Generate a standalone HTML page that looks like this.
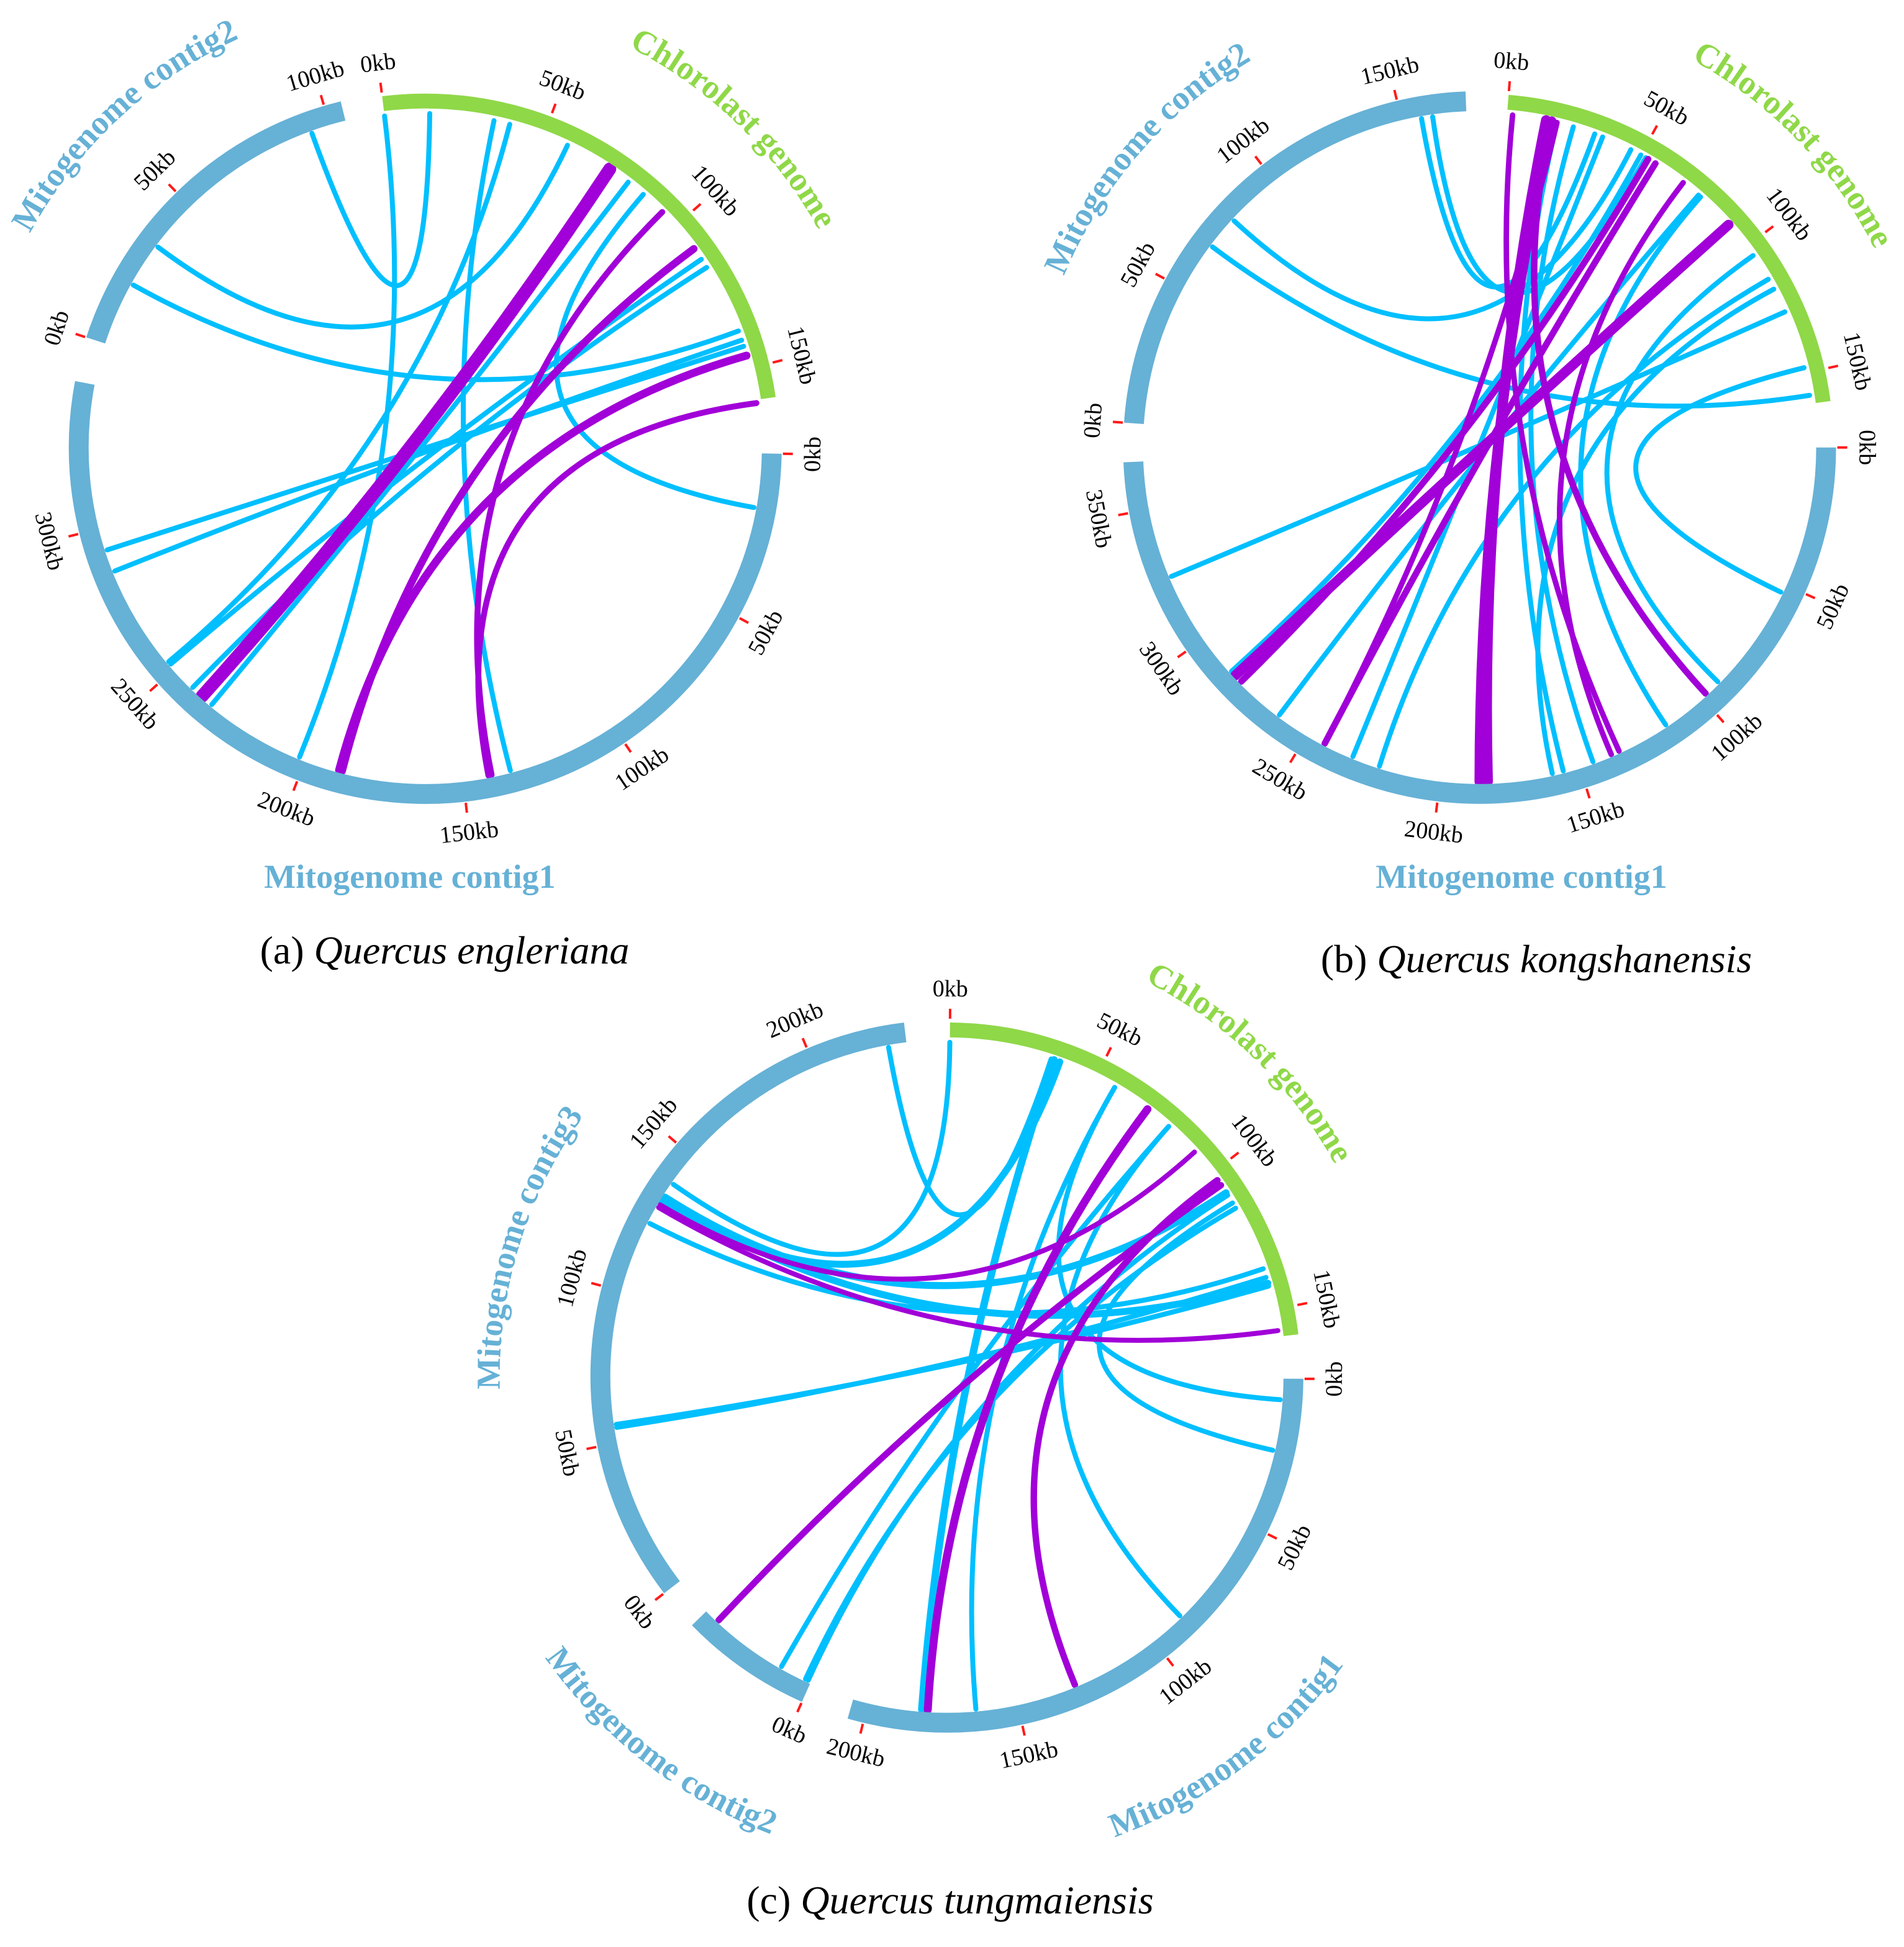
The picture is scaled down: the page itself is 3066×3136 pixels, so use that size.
<!DOCTYPE html>
<html><head><meta charset="utf-8"><style>
html,body{margin:0;padding:0;background:#fff;}
svg{display:block;}
text{font-family:"Liberation Serif",serif;}
</style></head>
<body>
<svg id="fig" xmlns="http://www.w3.org/2000/svg" width="3066" height="3136" viewBox="0 0 1533 1568"></svg>
<script>
// ---------- data ----------
// segment lengths (kb)
const segLenA = {chl:160, c1:345, c2:105};
const segLenB = {chl:161, c1:367, c2:173};
const segLenC = {chl:159, c1:205, c2:42, c3:231};
// tick labels (kb)
const ticksA = {chl:[0,50,100,150], c1:[0,50,100,150,200,250,300], c2:[0,50,100]};
const ticksB = {chl:[0,50,100,150], c1:[0,50,100,150,200,250,300,350], c2:[0,50,100,150]};
const ticksC = {chl:[0,50,100,150], c1:[0,50,100,150,200], c2:[0], c3:[0,50,100,150,200]};
// links: [segA, kbA, segB, kbB, type(b=blue,p=purple), weight]
const linksA = [
 ['c2',94,'chl',14,'b',1],['chl',0,'c1',202,'b',1],['chl',34,'c1',135,'b',1],
 ['chl',39,'c1',253,'b',1],['chl',58,'c2',34,'b',1],['c2',20,'chl',138,'b',1],
 ['chl',80,'c1',234,'b',1],['chl',86,'c1',17,'b',1],
 ['chl',113,'c1',252,'b',1],['chl',116,'c1',242,'b',1],
 ['chl',141,'c1',286,'b',1],['chl',143,'c1',293,'b',1],
 ['chl',73,'c1',238,'p',2.6],['chl',94,'c1',141,'p',1.2],['chl',109,'c1',188,'p',1.5],
 ['chl',146,'c1',189,'p',1.6],['chl',161,'c1',142,'p',1.2]
];
const linksB = [
 ['c2',157,'chl',32,'b',1],['c2',161,'chl',52,'b',1],['c2',80,'chl',46,'b',1],
 ['c2',68,'chl',158,'b',1],['c1',325,'chl',127,'b',1],['c1',53,'chl',148,'b',1],
 ['c1',92,'chl',104,'b',1],['c1',116,'chl',76,'b',1],['c1',156,'chl',18,'b',1],
 ['c1',145,'chl',24,'b',1],['c1',160,'chl',118,'b',1],['c1',285,'chl',50,'b',1],
 ['c1',262,'chl',75,'b',1],['c1',232,'chl',35,'b',1],['c1',222,'chl',114,'b',1],
 ['chl',2,'c1',135,'p',1.1],['chl',14,'c1',183,'p',2],['chl',16,'c1',186,'p',2],
 ['chl',16,'c1',98,'p',1.3],['chl',18,'c1',243,'p',1.1],['chl',53,'c1',280,'p',1.3],
 ['chl',56,'c1',243,'p',1.3],['chl',68,'c1',138,'p',1.1],['chl',90,'c1',283,'p',2]
];
const linksC = [
 ['c3',225,'chl',34,'b',1],['chl',0,'c3',139,'b',1],['chl',37,'c3',132,'b',1.4],
 ['c3',133,'chl',141,'b',1.4],['c3',134,'chl',108,'b',1.4],['c3',124,'chl',136,'b',1],
 ['chl',57,'c1',7,'b',1],['chl',112,'c1',24,'b',1],['c3',55,'chl',139,'b',1],
 ['c3',56,'chl',142,'b',1],['c1',88,'chl',79,'b',1],['c1',182,'chl',35,'b',1.5],
 ['c1',164,'chl',57,'b',1],['c2',11,'chl',79,'b',1],['c2',1,'chl',109,'b',1],
 ['c2',2,'chl',114,'b',1],
 ['c3',130,'chl',157,'p',1],['c3',131,'chl',91,'p',1],['c1',130,'chl',103,'p',1.3],
 ['c1',180,'chl',70,'p',1.6],['c2',37,'chl',105,'p',1.3]
];
// ---------- layout ----------
const COL = {chl:'#8fd848', mito:'#66b1d6', b:'#00bfff', p:'#a100d8', tick:'#ff1a1a'};
const plots = [
 {id:'a', cx:342.4, cy:360.4, r:279, len:segLenA, ticks:ticksA, links:linksA,
  seg:{chl:{s:-7,d:0.555}, c1:{s:91,d:0.55}, c2:{s:288,d:0.555}},
  titles:[{t:'Mitogenome contig2',a:317,R:362,cw:1,c:COL.mito},{t:'Chlorolast genome',a:44,R:362,cw:1,c:COL.chl}],
  htitle:{t:'Mitogenome contig1',x:330,y:715}, cap:{x:358,y:776,l:'(a) ',s:'Quercus engleriana'}},
 {id:'b', cx:1191.3, cy:360.4, r:279, len:segLenB, ticks:ticksB, links:linksB,
  seg:{chl:{s:4.7,d:0.483}, c1:{s:90,d:0.484}, c2:{s:274,d:0.484}},
  titles:[{t:'Mitogenome contig2',a:311,R:362,cw:1,c:COL.mito},{t:'Chlorolast genome',a:46,R:356,cw:1,c:COL.chl}],
  htitle:{t:'Mitogenome contig1',x:1225,y:715}, cap:{x:1237,y:783,l:'(b) ',s:'Quercus kongshanensis'}},
 {id:'c', cx:762.4, cy:1108.4, r:279, len:segLenC, ticks:ticksC, links:linksC,
  seg:{chl:{s:0.5,d:0.52}, c1:{s:90.4,d:0.516}, c2:{s:204,d:0.516}, c3:{s:232.5,d:0.522}},
  titles:[{t:'Chlorolast genome',a:44,R:356,cw:1,c:COL.chl},{t:'Mitogenome contig3',a:287,R:360,cw:1,c:COL.mito},
          {t:'Mitogenome contig2',a:218,R:395,cw:0,c:COL.mito},{t:'Mitogenome contig1',a:143,R:395,cw:0,c:COL.mito}],
  htitle:null, cap:{x:765,y:1541,l:'(c) ',s:'Quercus tungmaiensis'}}
];
const NS='http://www.w3.org/2000/svg';
const svg=document.getElementById('fig');
function mk(tag,attrs,parent){const e=document.createElementNS(NS,tag);for(const k in attrs)e.setAttribute(k,attrs[k]);(parent||svg).appendChild(e);return e;}
function pt(p,a,R){const t=a*Math.PI/180;return [p.cx+R*Math.sin(t), p.cy-R*Math.cos(t)];}
function ang(p,seg,kb){return p.seg[seg].s+kb*p.seg[seg].d;}
function arc(p,a0,a1,R){const s=pt(p,a0,R),e=pt(p,a1,R);const large=Math.abs(a1-a0)>180?1:0;const sw=a1>a0?1:0;
 return `M${s[0].toFixed(2)},${s[1].toFixed(2)} A${R},${R} 0 ${large} ${sw} ${e[0].toFixed(2)},${e[1].toFixed(2)}`;}

plots.forEach(p=>{
 const g=mk('g',{});
 
 
 const lg=mk('g',{fill:'none','stroke-linecap':'round'},g);
 
 
 const Rl=p.r-10;
 p.links.forEach((L,i)=>{
  const a=pt(p,ang(p,L[0],L[1]),Rl), b=pt(p,ang(p,L[2],L[3]),Rl);
  const el=mk('path',{d:`M${a[0].toFixed(2)},${a[1].toFixed(2)} Q${p.cx},${p.cy} ${b[0].toFixed(2)},${b[1].toFixed(2)}`,
   stroke:COL[L[4]], 'stroke-width':(4.0*L[5]).toFixed(2)},lg);
  
  
 });
 Object.keys(p.len).forEach(s=>{
  const a0=ang(p,s,0), a1=ang(p,s,p.len[s]);
  const el=mk('path',{d:arc(p,a0,a1,p.r),fill:'none',stroke:s==='chl'?COL.chl:COL.mito,'stroke-width':s==='chl'?12:16},g);
  
  
  p.ticks[s].forEach(k=>{
   const a=ang(p,s,k);
   const t0=pt(p,a,p.r+9), t1=pt(p,a,p.r+17);
   const tl=mk('line',{x1:t0[0],y1:t0[1],x2:t1[0],y2:t1[1],stroke:COL.tick,'stroke-width':2},g);
   
   
   const lp=pt(p,a,p.r+33);
   let an=((a%360)+360)%360; let rot=(an>90&&an<270)?an-180:an;
   const tx=mk('text',{x:lp[0],y:lp[1],'font-size':19,'text-anchor':'middle','dominant-baseline':'central',
     transform:`rotate(${rot.toFixed(1)} ${lp[0].toFixed(1)} ${lp[1].toFixed(1)})`,fill:'#000'},g);
   tx.textContent=k+'kb';
   
   
  });
 });
 p.titles.forEach((T,i)=>{
  const id='tp-'+p.id+'-'+i;
  const a0=T.cw?T.a-70:T.a+70, a1=T.cw?T.a+70:T.a-70;
  mk('path',{id:id,d:arc(p,a0,a1,T.R),fill:'none',stroke:'none'},g);
  const tx=mk('text',{'font-size':27,'font-weight':'bold',fill:T.c},g);
  
  
  const tp=mk('textPath',{href:'#'+id,startOffset:'50%','text-anchor':'middle'},tx);
  tp.textContent=T.t;
 });
 if(p.htitle){
  const tx=mk('text',{x:p.htitle.x,y:p.htitle.y,'font-size':27,'font-weight':'bold',fill:COL.mito,'text-anchor':'middle'},g);
  tx.textContent=p.htitle.t;
  
  
 }
 const cap=mk('text',{x:p.cap.x,y:p.cap.y,'font-size':32,fill:'#000','text-anchor':'middle'},g);
 
 
 const c1=mk('tspan',{},cap); c1.textContent=p.cap.l;
 const c2=mk('tspan',{'font-style':'italic'},cap); c2.textContent=p.cap.s;
});
</script>
</body></html>
